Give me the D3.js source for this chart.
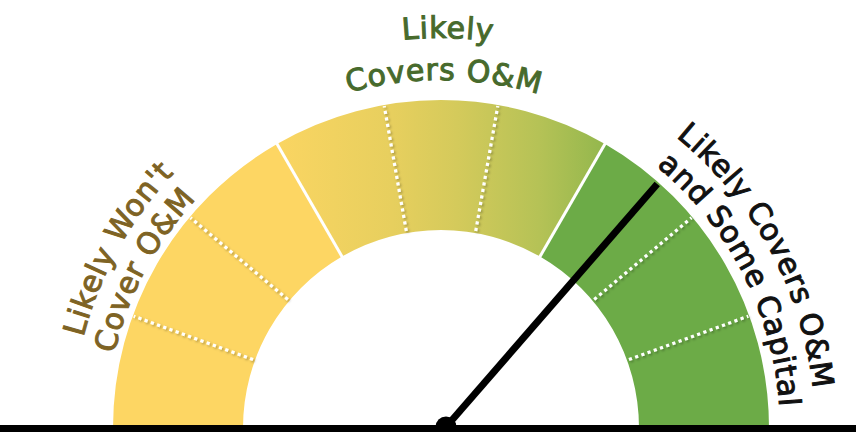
<!DOCTYPE html>
<html>
<head>
<meta charset="utf-8">
<script src="https://cdn.jsdelivr.net/npm/d3@7"></script>
<style>
  html, body { margin: 0; padding: 0; background: #fff; }
  svg { display: block; }
</style>
</head>
<body>
<div id="area"></div>
<script>
// gauge data
var zoneNames = ["Likely Won't Cover O&M", "Likely Covers O&M", "Likely Covers O&M and Some Capital"];
var zoneStart = [0, 3, 6];
var zoneEnd = [3, 6, 9];
var majorTicks = [3, 6];
var minorTicks = [1, 2, 4, 5, 7, 8];
var labelLines = [["Likely Won't", "Cover O&M"], ["Likely", "Covers O&M"], ["Likely Covers O&M", "and Some Capital"]];
var needleValue = 6.55;

var width = 856, height = 432;
var cx = 441, cy = 428, rInner = 198, rOuter = 328;

var zoneFill = ["#FDD663", "url(#midGrad)", "#6CAB47"];
var labelColor = ["#7E6324", "#476A2C", "#111111"];
// label placement: center angle (degrees from top, clockwise) and baseline radius per line
var labelAt = [
  { a: [-61, -62], r: [369, 335] },
  { a: [1, 0.5], r: [390, 348] },
  { a: [61.5, 63], r: [374, 339] }
];

var svg = d3.select("#area")
  .append("svg")
  .attr("width", width)
  .attr("height", height);

var defs = svg.append("defs");

var angle = d3.scaleLinear()
  .domain([0, 9])
  .range([-Math.PI / 2, Math.PI / 2]);

// gradient in the gauge group's local coordinates
var grad = defs.append("linearGradient")
  .attr("id", "midGrad")
  .attr("gradientUnits", "userSpaceOnUse")
  .attr("x1", rOuter * Math.sin(angle(3)))
  .attr("x2", rOuter * Math.sin(angle(6)))
  .attr("y1", 0).attr("y2", 0);
[[0, "#FAD562"], [0.35, "#E7CF5E"], [0.55, "#D4CA5B"], [0.8, "#B5C256"], [1, "#93B74D"]]
  .forEach(function (s) {
    grad.append("stop").attr("offset", s[0]).attr("stop-color", s[1]);
  });

var shadow = defs.append("filter").attr("id", "dotShadow")
  .attr("x", "-50%").attr("y", "-50%").attr("width", "200%").attr("height", "200%");
shadow.append("feDropShadow")
  .attr("dx", 1.5).attr("dy", 1.5).attr("stdDeviation", 1.2)
  .attr("flood-color", "#000").attr("flood-opacity", 0.3);

var g = svg.append("g").attr("transform", "translate(" + cx + "," + cy + ")");

var arc = d3.arc().innerRadius(rInner).outerRadius(rOuter);

g.selectAll("path.zone")
  .data(zoneNames)
  .enter()
  .append("path")
  .attr("class", "zone")
  .attr("d", function (d, i) { return arc({ startAngle: angle(zoneStart[i]), endAngle: angle(zoneEnd[i]) }); })
  .style("fill", function (d, i) { return zoneFill[i]; });

// dotted separators
g.selectAll("line.minor")
  .data(minorTicks)
  .enter()
  .append("line")
  .attr("class", "minor")
  .attr("x1", function (d) { return (rInner + 2) * Math.sin(angle(d)); })
  .attr("y1", function (d) { return -(rInner + 2) * Math.cos(angle(d)); })
  .attr("x2", function (d) { return (rOuter - 1) * Math.sin(angle(d)); })
  .attr("y2", function (d) { return -(rOuter - 1) * Math.cos(angle(d)); })
  .attr("filter", "url(#dotShadow)")
  .style("stroke", "#fff")
  .style("stroke-width", 3.2)
  .style("stroke-dasharray", "3.2,3.4");

// solid separators
g.selectAll("line.major")
  .data(majorTicks)
  .enter()
  .append("line")
  .attr("class", "major")
  .attr("x1", function (d) { return (rInner - 1) * Math.sin(angle(d)); })
  .attr("y1", function (d) { return -(rInner - 1) * Math.cos(angle(d)); })
  .attr("x2", function (d) { return (rOuter + 1) * Math.sin(angle(d)); })
  .attr("y2", function (d) { return -(rOuter + 1) * Math.cos(angle(d)); })
  .style("stroke", "#fff")
  .style("stroke-width", 3);

// curved labels (paths in page coordinates)
labelLines.forEach(function (lines, i) {
  lines.forEach(function (txt, j) {
    var a = labelAt[i].a[j] * Math.PI / 180 - Math.PI / 2;
    var span = Math.PI / 2.5;
    var p = d3.path();
    p.arc(cx, cy, labelAt[i].r[j], a - span, a + span, false);
    var id = "lp" + i + "_" + j;
    defs.append("path").attr("id", id).attr("d", p.toString());
    svg.append("text")
      .style("font-family", "'DejaVu Sans', sans-serif")
      .style("font-size", "30px")
      .style("fill", labelColor[i])
      .style("stroke", labelColor[i])
      .style("stroke-width", 1)
      .style("letter-spacing", "0.8px")
      .append("textPath")
      .attr("href", "#" + id)
      .attr("startOffset", "50%")
      .attr("text-anchor", "middle")
      .text(txt);
  });
});

// baseline
svg.append("rect")
  .attr("x", 0).attr("y", 425)
  .attr("width", width).attr("height", 7)
  .style("fill", "#000");

// needle
var px = 446, py = 427, needleLen = 322;
var na = angle(needleValue);
svg.append("line")
  .attr("x1", px).attr("y1", py)
  .attr("x2", px + needleLen * Math.sin(na))
  .attr("y2", py - needleLen * Math.cos(na))
  .style("stroke", "#000")
  .style("stroke-width", 7);
svg.append("circle")
  .attr("cx", px).attr("cy", py)
  .attr("r", 10.5)
  .style("fill", "#000");
</script>
</body>
</html>
